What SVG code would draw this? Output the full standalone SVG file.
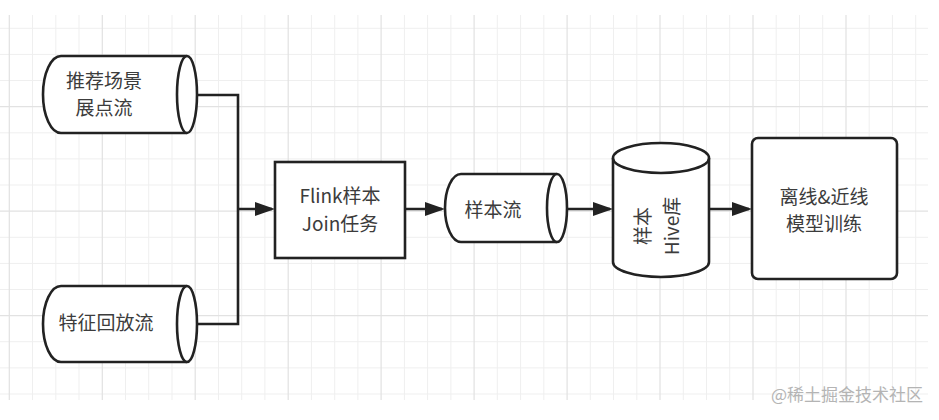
<svg xmlns="http://www.w3.org/2000/svg" width="939" height="420" viewBox="0 0 939 420">
<style>
.grid-minor{stroke:#efefef;stroke-width:1;fill:none}
.grid-major{stroke:#e2e2e2;stroke-width:1.2;fill:none}
.shape{fill:#ffffff;stroke:#222222;stroke-width:2.6}
.edge{fill:none;stroke:#222222;stroke-width:2.6}
.lbl{font-family:"Noto Sans CJK SC","Noto Sans",sans-serif;font-size:19px;fill:#3c3c3c;text-anchor:middle}
.wm{font-family:"Noto Sans CJK SC","Noto Sans",sans-serif;font-size:17px;fill:#b4b4b4;text-anchor:end}
</style>
<defs>
<marker id="arrow" markerUnits="userSpaceOnUse" markerWidth="20" markerHeight="14" viewBox="0 0 20 14" refX="17" refY="7" orient="auto">
<path d="M0,0 L20,7 L0,14 z" fill="#222222"/>
</marker>
</defs>
<rect x="0" y="0" width="939" height="420" fill="#ffffff"/>
<g id="grid">
<path class="grid-minor" d="M32.5 15V400M55.8 15V400M79 15V400M125.5 15V400M148.7 15V400M172 15V400M218.5 15V400M241.7 15V400M264.9 15V400M311.4 15V400M334.7 15V400M357.9 15V400M404.4 15V400M427.6 15V400M450.9 15V400M497.3 15V400M520.6 15V400M543.8 15V400M590.3 15V400M613.5 15V400M636.8 15V400M683.3 15V400M706.5 15V400M729.7 15V400M776.2 15V400M799.5 15V400M822.7 15V400M869.2 15V400M892.4 15V400M915.7 15V400M0 28.3H928M0 54.4H928M0 80.5H928M0 132.8H928M0 158.9H928M0 185H928M0 237.3H928M0 263.4H928M0 289.5H928M0 341.7H928M0 367.9H928M0 394H928"/>
<path class="grid-major" d="M9.3 15V400M102.3 15V400M195.2 15V400M288.2 15V400M381.1 15V400M474.1 15V400M567.1 15V400M660 15V400M753 15V400M846 15V400M0 106.7H928M0 211.1H928M0 315.6H928"/>
</g>
<g id="connectors">
<path class="edge" d="M197 95H238V324H197"/>
<path class="edge" d="M238 209H272" marker-end="url(#arrow)"/>
<path class="edge" d="M405 209H442" marker-end="url(#arrow)"/>
<path class="edge" d="M567 209H610" marker-end="url(#arrow)"/>
<path class="edge" d="M709 209H749" marker-end="url(#arrow)"/>
</g>
<g id="node-recommend">
<path class="shape" d="M187 56H61A18 38.5 0 0 0 61 133H187"/>
<ellipse class="shape" cx="187" cy="94.5" rx="10" ry="38.5"/>
<text class="lbl" x="104" y="88">推荐场景</text>
<text class="lbl" x="104" y="115">展点流</text>
</g>
<g id="node-feature">
<path class="shape" d="M187 286H61A18 38 0 0 0 61 362H187"/>
<ellipse class="shape" cx="187" cy="324" rx="10" ry="38"/>
<text class="lbl" x="106" y="330">特征回放流</text>
</g>
<g id="node-flink">
<rect class="shape" x="275" y="162" width="130" height="96"/>
<text class="lbl" x="340" y="203">Flink样本</text>
<text class="lbl" x="340" y="231">Join任务</text>
</g>
<g id="node-sample-stream">
<path class="shape" d="M557 174H461A16 34 0 0 0 461 242H557"/>
<ellipse class="shape" cx="557" cy="208" rx="10" ry="34"/>
<text class="lbl" x="493" y="217">样本流</text>
</g>
<g id="node-hive">
<path class="shape" d="M613 158V262A48 15 0 0 0 709 262V158"/>
<ellipse class="shape" cx="661" cy="158" rx="48" ry="15"/>
<g transform="rotate(-90 657 226)">
<text class="lbl" x="657" y="219">样本</text>
<text class="lbl" x="657" y="248">Hive库</text>
</g>
</g>
<g id="node-training">
<rect class="shape" x="752" y="138" width="145" height="141" rx="6" ry="6"/>
<text class="lbl" x="824" y="204">离线&amp;近线</text>
<text class="lbl" x="824" y="231">模型训练</text>
</g>
<text class="wm" x="923" y="401">@稀土掘金技术社区</text>
</svg>
